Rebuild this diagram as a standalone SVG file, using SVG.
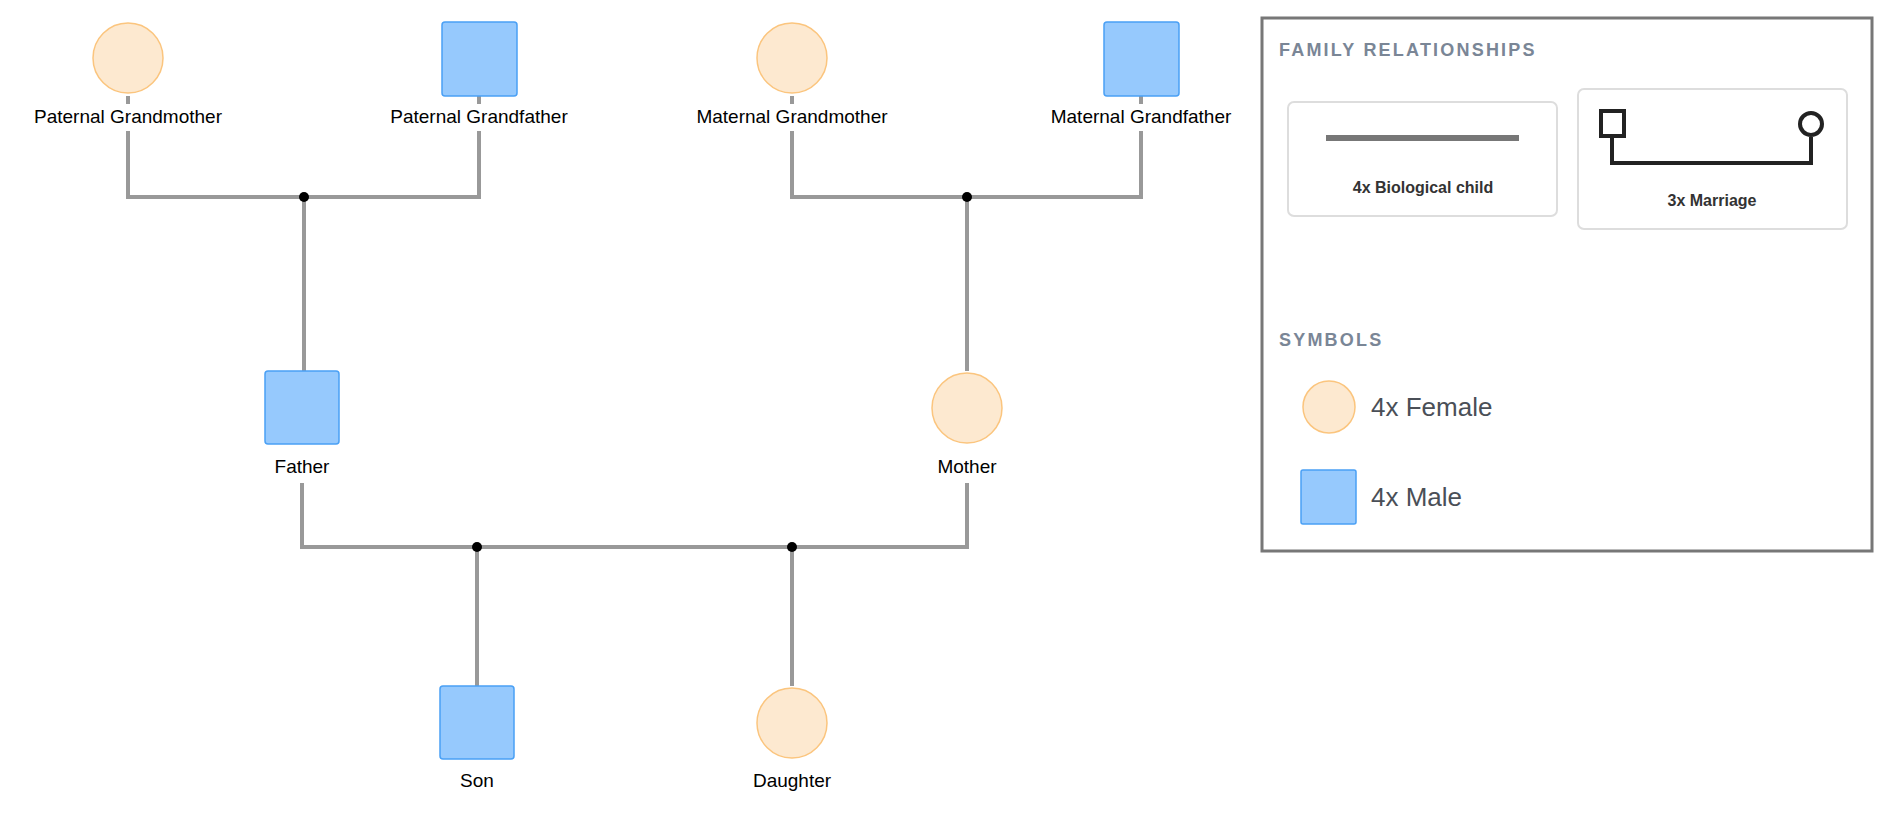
<svg xmlns="http://www.w3.org/2000/svg" width="1884" height="820" viewBox="0 0 1884 820">
<style>
.f{fill:#fde9d0;stroke:#fbc57e;stroke-width:1.5}
.m{fill:#96c9fd;stroke:#4aa0f5;stroke-width:1.5}
.lb{font-family:"Liberation Sans",Arial,sans-serif;font-size:19px;fill:#000;text-anchor:middle}
.ln{stroke:#999;stroke-width:4;fill:none}
.dot{fill:#000}
.hd{font-family:"Liberation Sans",Arial,sans-serif;font-size:18px;font-weight:bold;fill:#7a8696;letter-spacing:2.2px}
.cd{fill:#fff;stroke:#ddd;stroke-width:2}
.ct{font-family:"Liberation Sans",Arial,sans-serif;font-size:16px;font-weight:bold;fill:#333;text-anchor:middle}
.st{font-family:"Liberation Sans",Arial,sans-serif;font-size:26px;fill:#4a4f57}
</style>
<g id="connectors">
<path class="ln" d="M128 96V104M128 131V197H479V131M479 104V96"/>
<path class="ln" d="M304 197V371"/>
<path class="ln" d="M792 96V104M792 131V197H1141V131M1141 104V96"/>
<path class="ln" d="M967 197V371"/>
<path class="ln" d="M302 483V547H967V483"/>
<path class="ln" d="M477 547V686M792 547V686"/>
<circle class="dot" cx="304" cy="197" r="5"/>
<circle class="dot" cx="967" cy="197" r="5"/>
<circle class="dot" cx="477" cy="547" r="5"/>
<circle class="dot" cx="792" cy="547" r="5"/>
</g>
<g id="pgm"><circle class="f" cx="128" cy="58" r="35"/><text class="lb" x="128" y="123">Paternal Grandmother</text></g>
<g id="pgf"><rect class="m" x="442" y="22" width="75" height="74" rx="3"/><text class="lb" x="479" y="123">Paternal Grandfather</text></g>
<g id="mgm"><circle class="f" cx="792" cy="58" r="35"/><text class="lb" x="792" y="123">Maternal Grandmother</text></g>
<g id="mgf"><rect class="m" x="1104" y="22" width="75" height="74" rx="3"/><text class="lb" x="1141" y="123">Maternal Grandfather</text></g>
<g id="father"><rect class="m" x="265" y="371" width="74" height="73" rx="3"/><text class="lb" x="302" y="473">Father</text></g>
<g id="mother"><circle class="f" cx="967" cy="408" r="35"/><text class="lb" x="967" y="473">Mother</text></g>
<g id="son"><rect class="m" x="440" y="686" width="74" height="73" rx="3"/><text class="lb" x="477" y="787">Son</text></g>
<g id="daughter"><circle class="f" cx="792" cy="723" r="35"/><text class="lb" x="792" y="787">Daughter</text></g>
<g id="legend">
<rect x="1262" y="18" width="610" height="533" fill="#fff" stroke="#777" stroke-width="3"/>
<text class="hd" x="1279" y="56">FAMILY RELATIONSHIPS</text>
<rect class="cd" x="1288" y="102" width="269" height="114" rx="6"/>
<line x1="1326" y1="138" x2="1519" y2="138" stroke="#777" stroke-width="6"/>
<text class="ct" x="1423" y="193">4x Biological child</text>
<rect class="cd" x="1578" y="89" width="269" height="140" rx="6"/>
<path d="M1612 136V163H1811V137" stroke="#222" stroke-width="4" fill="none"/>
<rect x="1601" y="111" width="23" height="25" fill="#fff" stroke="#222" stroke-width="4"/>
<circle cx="1811" cy="124" r="11" fill="#fff" stroke="#222" stroke-width="4"/>
<text class="ct" x="1712" y="206">3x Marriage</text>
<text class="hd" x="1279" y="346">SYMBOLS</text>
<circle class="f" cx="1329" cy="407" r="26"/>
<text class="st" x="1371" y="416">4x Female</text>
<rect class="m" x="1301" y="470" width="55" height="54" rx="2"/>
<text class="st" x="1371" y="506">4x Male</text>
</g>
</svg>
